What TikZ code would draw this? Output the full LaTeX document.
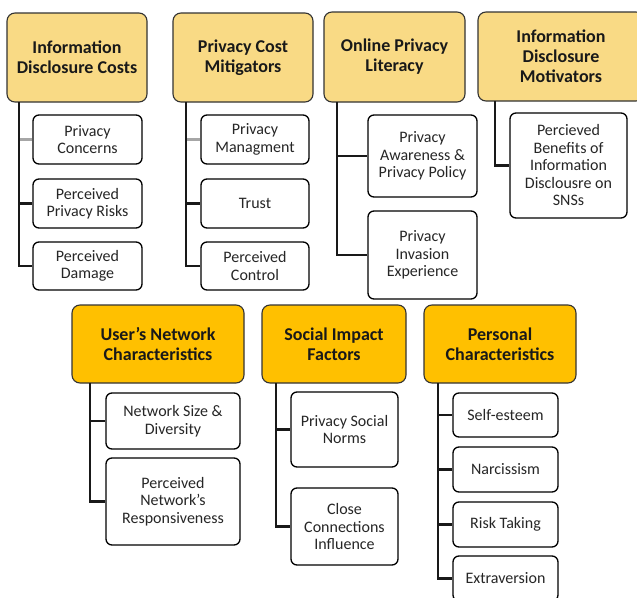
\documentclass[tikz,border=0pt]{standalone}
\usepackage{fontspec}
\setmainfont{Carlito}
\begin{document}
\begin{tikzpicture}[x=1pt,y=-1pt,
  hdr/.style={draw=black!80, line width=1.1pt, rounded corners=8pt, align=center,
    font=\fontsize{18}{20}\selectfont\bfseries, text=black!90, inner sep=1pt},
  hdrA/.style={hdr, fill=hdrlight},
  hdrB/.style={hdr, fill=hdrgold},
  child/.style={draw=black, fill=white, line width=1.3pt, rounded corners=6pt, align=center,
    font=\fontsize{16}{17.5}\selectfont, text=black!85, inner sep=1pt},
  spine/.style={line width=2.4pt, black!90},
  graylink/.style={line width=2.4pt, black!35}]
\definecolor{hdrlight}{HTML}{F9DA85}
\definecolor{hdrgold}{HTML}{FFC000}
\useasboundingbox (0,0) rectangle (637,597);
\clip (0,0) rectangle (637,597);
\fill[white] (0,0) rectangle (637,597);

% ---------- top row headers ----------
\node[hdrA, minimum width=140pt, minimum height=89pt] (h1) at (77,57.5) {Information\\Disclosure Costs};
\node[hdrA, minimum width=140pt, minimum height=89pt] (h2) at (243,57.5) {Privacy Cost\\Mitigators};
\node[hdrA, minimum width=141pt, minimum height=90pt] (h3) at (394.5,57) {Online Privacy\\Literacy};
\node[hdrA, minimum width=166pt, minimum height=89pt] (h4) at (561,56.5) {Information\\Disclosure\\Motivators};

% ---------- group 1 ----------
\node[child, minimum width=109pt, minimum height=49pt] (c11) at (87.5,139.5) {Privacy\\Concerns};
\node[child, minimum width=109pt, minimum height=49pt] (c12) at (87.5,203.5) {Perceived\\Privacy Risks};
\node[child, minimum width=109pt, minimum height=48pt] (c13) at (87.5,266) {Perceived\\Damage};
\coordinate (s1) at (19,102);
\draw[graylink] (s1 |- c11.west) -- (c11.west);
\draw[spine] (s1 |- c12.west) -- (c12.west);
\draw[spine] (s1) |- (c13.west);

% ---------- group 2 ----------
\node[child, minimum width=108pt, minimum height=49pt] (c21) at (255,139.5) {Privacy\\Managment};
\node[child, minimum width=108pt, minimum height=49pt] (c22) at (255,203.5) {Trust};
\node[child, minimum width=108pt, minimum height=48pt] (c23) at (255,266) {Perceived\\Control};
\coordinate (s2) at (186,102);
\draw[graylink] (s2 |- c21.west) -- (c21.west);
\draw[spine] (s2 |- c22.west) -- (c22.west);
\draw[spine] (s2) |- (c23.west);

% ---------- group 3 ----------
\node[child, minimum width=109pt, minimum height=82pt] (c31) at (422.5,156) {Privacy\\Awareness \&\\Privacy Policy};
\node[child, minimum width=109pt, minimum height=88pt] (c32) at (422.5,255) {Privacy\\Invasion\\Experience};
\coordinate (s3) at (337,102);
\draw[spine] (s3 |- c31.west) -- (c31.west);
\draw[spine] (s3) |- (c32.west);

% ---------- group 4 ----------
\node[child, minimum width=117pt, minimum height=105pt] (c41) at (568.5,165.5) {Percieved\\Benefits of\\Information\\Disclousre on\\SNSs};
\coordinate (s4) at (495,101);
\draw[spine] (s4) |- (c41.west);

% ---------- bottom row headers ----------
\node[hdrB, minimum width=172pt, minimum height=78pt] (h5) at (158,344) {User’s Network\\Characteristics};
\node[hdrB, minimum width=144pt, minimum height=78pt] (h6) at (334,344) {Social Impact\\Factors};
\node[hdrB, minimum width=152pt, minimum height=78pt] (h7) at (500,344) {Personal\\Characteristics};

% ---------- group 5 ----------
\node[child, minimum width=134pt, minimum height=56pt] (c51) at (173,421) {Network Size \&\\Diversity};
\node[child, minimum width=134pt, minimum height=87pt] (c52) at (173,501.5) {Perceived\\Network’s\\Responsiveness};
\coordinate (s5) at (90,383);
\draw[spine] (s5 |- c51.west) -- (c51.west);
\draw[spine] (s5) |- (c52.west);

% ---------- group 6 ----------
\node[child, minimum width=107pt, minimum height=75pt] (c61) at (344.5,429.5) {Privacy Social\\Norms};
\node[child, minimum width=107pt, minimum height=77pt] (c62) at (344.5,526.5) {Close\\Connections\\Influence};
\coordinate (s6) at (276,383);
\draw[spine] (s6 |- c61.west) -- (c61.west);
\draw[spine] (s6) |- (c62.west);

% ---------- group 7 ----------
\node[child, minimum width=105pt, minimum height=44pt] (c71) at (505.5,415) {Self-esteem};
\node[child, minimum width=105pt, minimum height=45pt] (c72) at (505.5,469.5) {Narcissism};
\node[child, minimum width=105pt, minimum height=45pt] (c73) at (505.5,524.5) {Risk Taking};
\node[child, minimum width=105pt, minimum height=45pt] (c74) at (505.5,578.5) {Extraversion};
\coordinate (s7) at (438,383);
\draw[spine] (s7 |- c71.west) -- (c71.west);
\draw[spine] (s7 |- c72.west) -- (c72.west);
\draw[spine] (s7 |- c73.west) -- (c73.west);
\draw[spine] (s7) |- (c74.west);
\end{tikzpicture}
\end{document}
